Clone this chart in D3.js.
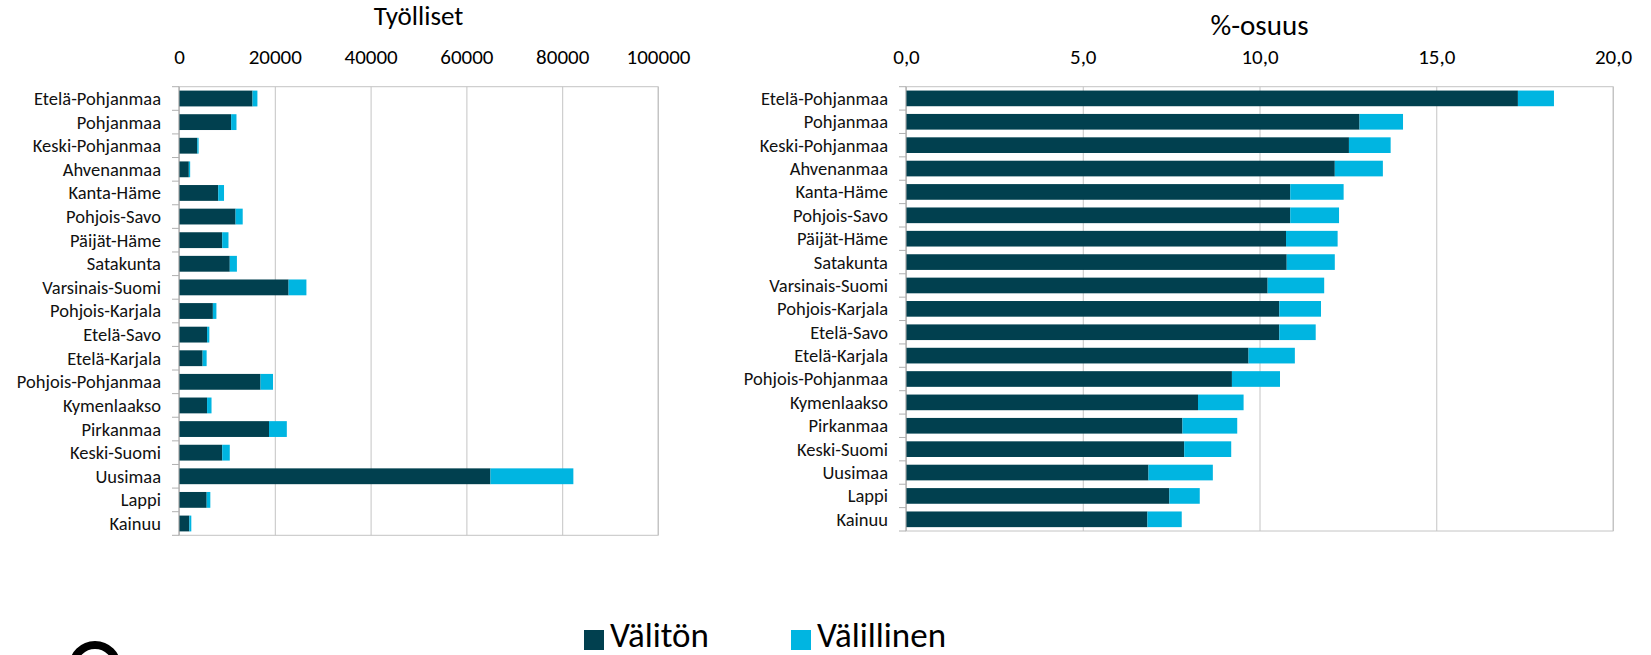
<!DOCTYPE html>
<html>
<head>
<meta charset="utf-8">
<script src="https://cdn.jsdelivr.net/npm/d3@7"></script>
<style>
  body { margin: 0; background: #fff; }
  svg { display: block; font-family: Carlito, Calibri, Lato, sans-serif; }
</style>
</head>
<body>
<svg id="chart" width="1651" height="655"></svg>
<script>
const regions = ["Etelä-Pohjanmaa", "Pohjanmaa", "Keski-Pohjanmaa", "Ahvenanmaa", "Kanta-Häme",
  "Pohjois-Savo", "Päijät-Häme", "Satakunta", "Varsinais-Suomi", "Pohjois-Karjala", "Etelä-Savo",
  "Etelä-Karjala", "Pohjois-Pohjanmaa", "Kymenlaakso", "Pirkanmaa", "Keski-Suomi", "Uusimaa",
  "Lappi", "Kainuu"];

// Työlliset (persons)
const jobsDirect   = [15350, 10880, 3810, 2050, 8190, 11810, 9020, 10600, 22880, 7070, 5860, 4930, 17020, 5860, 18790, 9020, 65020, 5780, 2150];
const jobsIndirect = [1020, 1120, 280, 280, 1210, 1490, 1310, 1490, 3720, 740, 470, 840, 2610, 930, 3720, 1580, 17310, 760, 420];

// %-osuus
const shareDirect   = [17.31, 12.83, 12.53, 12.13, 10.87, 10.87, 10.75, 10.77, 10.23, 10.56, 10.56, 9.69, 9.22, 8.26, 7.82, 7.87, 6.86, 7.45, 6.83];
const shareIndirect = [1.02, 1.23, 1.18, 1.36, 1.51, 1.38, 1.46, 1.36, 1.60, 1.18, 1.03, 1.31, 1.36, 1.29, 1.55, 1.33, 1.82, 0.86, 0.97];

const jobsTicks  = [0, 20000, 40000, 60000, 80000, 100000];
const shareTicks = [0, 5, 10, 15, 20];

const seriesNames = ["Välitön", "Välillinen"];
const colors = ["#01404f", "#00b5e1"];

const svg = d3.select("#chart");

function drawPanel(opt) {
  const g = svg.append("g");
  const x = d3.scaleLinear().domain(opt.domain).range([opt.left, opt.right]);
  const y = d3.scaleBand().domain(regions).range([opt.top, opt.bottom])
    .paddingInner(0.33).paddingOuter(0.165);

  // gridlines
  g.append("g")
    .attr("transform", `translate(0,${opt.bottom})`)
    .call(d3.axisBottom(x).tickValues(opt.ticks).tickSize(-(opt.bottom - opt.top)).tickFormat(""))
    .call(s => s.select(".domain").remove())
    .call(s => s.selectAll("line").attr("stroke", "#c4c4c4").attr("stroke-width", 1));

  // border box
  g.append("rect")
    .attr("x", opt.left).attr("y", opt.top)
    .attr("width", opt.right - opt.left).attr("height", opt.bottom - opt.top)
    .attr("fill", "none").attr("stroke", "#c4c4c4");

  // tick labels on top
  g.append("g")
    .attr("transform", `translate(0,64)`)
    .call(d3.axisTop(x).tickValues(opt.ticks).tickSize(0).tickPadding(0).tickFormat(opt.format))
    .call(s => s.select(".domain").remove())
    .call(s => s.selectAll("text").attr("font-size", 21).attr("fill", "#000")
      .attr("font-family", "Carlito, Calibri, Lato, sans-serif"));

  // title
  g.append("text")
    .attr("x", (opt.left + opt.right) / 2).attr("y", opt.titleY)
    .attr("text-anchor", "middle").attr("font-size", opt.titleSize).attr("fill", "#000")
    .text(opt.title);

  // stacked bars
  const rows = regions.map((r, i) => ({ region: r, a: opt.a[i], b: opt.b[i] }));
  const stack = d3.stack().keys(["a", "b"])(rows);
  g.selectAll("g.series")
    .data(stack)
    .enter()
    .append("g")
    .attr("class", "series")
    .attr("fill", (d, i) => colors[i])
    .selectAll("rect")
    .data(d => d)
    .enter()
    .append("rect")
    .attr("x", d => x(d[0]))
    .attr("y", d => y(d.data.region))
    .attr("width", d => x(d[1]) - x(d[0]))
    .attr("height", y.bandwidth());

  // category axis
  const cat = g.append("g").attr("transform", `translate(${opt.left},0)`);
  cat.append("line")
    .attr("x1", 0).attr("x2", 0).attr("y1", opt.top).attr("y2", opt.bottom)
    .attr("stroke", "#b0b0b0");
  const bounds = regions.map(r => y(r) - y.step() * y.paddingInner() / 2).concat([opt.bottom]);
  cat.selectAll("line.tick")
    .data(bounds)
    .enter()
    .append("line")
    .attr("class", "tick")
    .attr("x1", -7).attr("x2", 0)
    .attr("y1", d => d).attr("y2", d => d)
    .attr("stroke", "#b0b0b0");
  cat.selectAll("text")
    .data(regions)
    .enter()
    .append("text")
    .attr("x", opt.labelRight - opt.left)
    .attr("y", d => y(d) + y.bandwidth() / 2)
    .attr("dy", "0.35em")
    .attr("text-anchor", "end")
    .attr("font-size", 18.5)
    .attr("fill", "#111")
    .text(d => d);
}

drawPanel({
  title: "Työlliset", titleY: 25, titleSize: 27,
  domain: [0, 100000], ticks: jobsTicks, format: d3.format("d"),
  left: 179, right: 658, top: 86.7, bottom: 535.3, labelRight: 161,
  a: jobsDirect, b: jobsIndirect
});

drawPanel({
  title: "%-osuus", titleY: 35, titleSize: 29,
  domain: [0, 20], ticks: shareTicks, format: d => d3.format(".1f")(d).replace(".", ","),
  left: 906, right: 1613, top: 86.7, bottom: 531, labelRight: 888,
  a: shareDirect, b: shareIndirect
});

// legend
const legend = svg.append("g");
const legendX = [584, 791];
legend.selectAll("rect")
  .data(seriesNames)
  .enter()
  .append("rect")
  .attr("x", (d, i) => legendX[i]).attr("y", 630)
  .attr("width", 20).attr("height", 20)
  .attr("fill", (d, i) => colors[i]);
legend.selectAll("text")
  .data(seriesNames)
  .enter()
  .append("text")
  .attr("x", (d, i) => legendX[i] + 26).attr("y", 647)
  .attr("font-size", 35).attr("fill", "#000")
  .text(d => d);

// logo fragment, cut by the bottom edge
svg.append("circle")
  .attr("cx", 95).attr("cy", 667).attr("r", 22)
  .attr("fill", "none").attr("stroke", "#000").attr("stroke-width", 8);
</script>
</body>
</html>
